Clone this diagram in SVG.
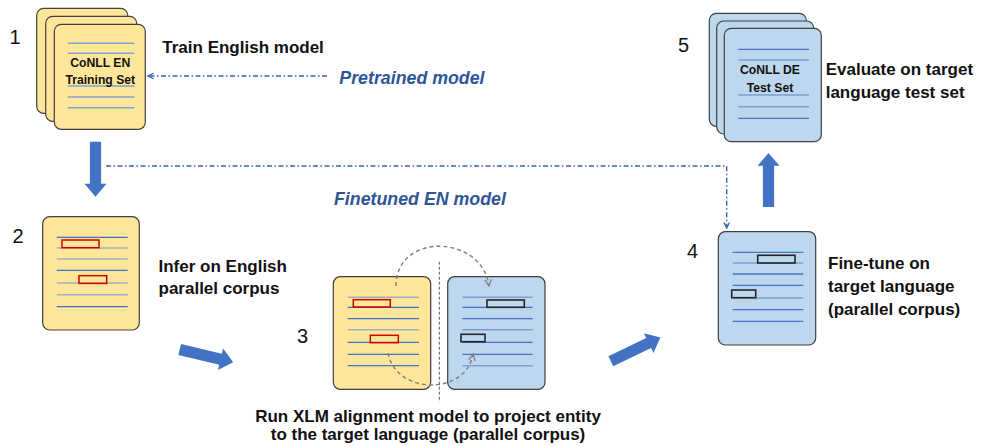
<svg xmlns="http://www.w3.org/2000/svg" width="983" height="446" viewBox="0 0 983 446">
<style>
.lbl{font-family:"Liberation Sans",Arial,sans-serif;font-weight:bold;font-size:17px;fill:#111}
.num{font-family:"Liberation Sans",Arial,sans-serif;font-size:20px;fill:#111}
.doc{font-family:"Liberation Sans",Arial,sans-serif;font-weight:bold;font-size:12.2px;fill:#111;text-anchor:middle}
.blu{font-family:"Liberation Sans",Arial,sans-serif;font-weight:bold;font-style:italic;font-size:17.8px;fill:#2F5597}
.py{fill:#FFE699;stroke:#404040;stroke-width:1.2}
.pb{fill:#BDD7EE;stroke:#404040;stroke-width:1.2}
.lb{stroke:#4472C4;stroke-width:1.3}
.lg{stroke:#9EAEC4;stroke-width:1.6}
.lp{stroke:#7F9FD4;stroke-width:1.4}
.rr{fill:none;stroke:#D40000;stroke-width:1.5}
.rk{fill:none;stroke:#262626;stroke-width:1.6}
.dd{fill:none;stroke:#3A64B0;stroke-width:1.4;stroke-dasharray:5 2.5 1.5 2.5}
.gd{fill:none;stroke:#7F7F7F;stroke-width:1.4;stroke-dasharray:4 3}
.blk{fill:#4472C4}
</style>
<defs>
<polygon id="barrow" points="0,-5.6 42,-5.6 42,-11 55,0 42,11 42,5.6 0,5.6"/>
<marker id="chevB" viewBox="0 0 10 10" refX="9" refY="5" markerWidth="7" markerHeight="7" orient="auto" markerUnits="userSpaceOnUse">
<path d="M1,1 L9,5 L1,9" fill="none" stroke="#3A64B0" stroke-width="1.8"/>
</marker>
<marker id="chevG" viewBox="0 0 10 10" refX="9" refY="5" markerWidth="8" markerHeight="8" orient="auto" markerUnits="userSpaceOnUse">
<path d="M1,1 L9,5 L1,9" fill="none" stroke="#7F7F7F" stroke-width="1.6"/>
</marker>
</defs>
<rect width="983" height="446" fill="#fff"/>

<g id="node1">
<rect class="py" x="36.7" y="8.3" width="91" height="105" rx="7"/>
<rect class="py" x="45.7" y="16.3" width="91" height="105" rx="7"/>
<rect class="py" x="54.3" y="24.3" width="91" height="105" rx="7"/>
<line class="lp" x1="67.7" y1="43.3" x2="134.3" y2="43.3"/>
<line class="lp" x1="67.7" y1="53.3" x2="134.3" y2="53.3"/>
<line class="lp" x1="67.7" y1="86" x2="134.3" y2="86"/>
<line class="lp" x1="67.7" y1="97" x2="134.3" y2="97"/>
<line class="lp" x1="67.7" y1="107.7" x2="134.3" y2="107.7"/>
<text class="doc" x="100.3" y="66.5">CoNLL EN</text>
<text class="doc" x="100.3" y="83.5" font-size="12.5">Training Set</text>
<text class="num" x="9.5" y="44">1</text>
<text class="lbl" x="162.3" y="53.3">Train English model</text>
</g>

<g id="node2">
<rect class="py" x="42.7" y="216.7" width="96.6" height="113.3" rx="7"/>
<line class="lb" x1="56.7" y1="237.3" x2="127.7" y2="237.3"/>
<line class="lg" x1="56.7" y1="248" x2="127.7" y2="248"/>
<line class="lg" x1="56.7" y1="259" x2="127.7" y2="259"/>
<line class="lb" x1="56.7" y1="270.3" x2="127.7" y2="270.3"/>
<line class="lg" x1="56.7" y1="283" x2="127.7" y2="283"/>
<line class="lg" x1="56.7" y1="294.7" x2="127.7" y2="294.7"/>
<line class="lb" x1="56.7" y1="306.7" x2="127.7" y2="306.7"/>
<rect class="rr" x="62" y="240" width="37" height="7.7"/>
<rect class="rr" x="79" y="275.7" width="27.7" height="7.7"/>
<text class="num" x="12.5" y="243">2</text>
<text class="lbl" x="158.5" y="272">Infer on English</text>
<text class="lbl" x="158.5" y="294">parallel corpus</text>
</g>

<g id="node3">
<rect class="py" x="333.3" y="276.7" width="97.4" height="112.6" rx="7"/>
<rect class="pb" x="447.7" y="276.7" width="97.3" height="112.6" rx="7"/>
<line class="lg" x1="347.7" y1="297.3" x2="419" y2="297.3"/>
<line class="lb" x1="347.7" y1="307.3" x2="419" y2="307.3"/>
<line class="lb" x1="347.7" y1="318.7" x2="419" y2="318.7"/>
<line class="lg" x1="347.7" y1="329.7" x2="419" y2="329.7"/>
<line class="lb" x1="347.7" y1="342.3" x2="419" y2="342.3"/>
<line class="lb" x1="347.7" y1="354.3" x2="419" y2="354.3"/>
<line class="lb" x1="347.7" y1="365.7" x2="419" y2="365.7"/>
<rect class="rr" x="353.3" y="299.7" width="37" height="7.3"/>
<rect class="rr" x="370.3" y="335.3" width="28" height="7.4"/>
<line class="lp" x1="462.3" y1="297.3" x2="532.7" y2="297.3"/>
<line class="lb" x1="462.3" y1="307.3" x2="532.7" y2="307.3"/>
<line class="lb" x1="462.3" y1="318.7" x2="532.7" y2="318.7"/>
<line class="lp" x1="462.3" y1="329.7" x2="532.7" y2="329.7"/>
<line class="lb" x1="462.3" y1="342.3" x2="532.7" y2="342.3"/>
<line class="lb" x1="462.3" y1="354.3" x2="532.7" y2="354.3"/>
<line class="lp" x1="462.3" y1="365.7" x2="532.7" y2="365.7"/>
<rect class="rk" x="487" y="300" width="37.3" height="7.3"/>
<rect class="rk" x="461" y="334.3" width="24" height="7.4"/>
<line x1="439.3" y1="261.7" x2="439.3" y2="402" stroke="#595959" stroke-width="1" stroke-dasharray="3 2"/>
<path class="gd" d="M396,286 C396,232 482,234 489,286" marker-end="url(#chevG)"/>
<path class="gd" d="M388,353 C396,395 466,396 473,354" marker-end="url(#chevG)"/>
<text class="num" x="297" y="343">3</text>
<text class="lbl" x="428" y="421.7" text-anchor="middle" font-size="17.6">Run XLM alignment model to project entity</text>
<text class="lbl" x="428" y="440" text-anchor="middle" font-size="17.6">to the target language (parallel corpus)</text>
</g>

<g id="node4">
<rect class="pb" x="718.3" y="231.7" width="97.4" height="113.3" rx="7"/>
<line class="lb" x1="732.7" y1="252.3" x2="803.3" y2="252.3"/>
<line class="lp" x1="732.7" y1="263" x2="803.3" y2="263"/>
<line class="lb" x1="732.7" y1="274" x2="803.3" y2="274"/>
<line class="lb" x1="732.7" y1="285.3" x2="803.3" y2="285.3"/>
<line class="lp" x1="732.7" y1="298" x2="803.3" y2="298"/>
<line class="lb" x1="732.7" y1="309.7" x2="803.3" y2="309.7"/>
<line class="lb" x1="732.7" y1="321.3" x2="803.3" y2="321.3"/>
<rect class="rk" x="757.7" y="255.3" width="37.3" height="7.7"/>
<rect class="rk" x="731.7" y="290" width="24" height="7.7"/>
<text class="num" x="687" y="258.3">4</text>
<text class="lbl" x="828" y="269.3">Fine-tune on</text>
<text class="lbl" x="828" y="292.3">target language</text>
<text class="lbl" x="828" y="315.3">(parallel corpus)</text>
</g>

<g id="node5">
<rect class="pb" x="709.3" y="13.3" width="97" height="113" rx="7"/>
<rect class="pb" x="716.7" y="21" width="97" height="113" rx="7"/>
<rect class="pb" x="724.3" y="28.3" width="97" height="113.4" rx="7"/>
<line class="lb" x1="738.3" y1="49.3" x2="809" y2="49.3"/>
<line class="lp" x1="738.3" y1="60" x2="809" y2="60"/>
<line class="lp" x1="738.3" y1="95" x2="809" y2="95"/>
<line class="lp" x1="738.3" y1="106.7" x2="809" y2="106.7"/>
<line class="lb" x1="738.3" y1="118.3" x2="809" y2="118.3"/>
<text class="doc" x="770" y="74">CoNLL DE</text>
<text class="doc" x="770" y="92">Test Set</text>
<text class="num" x="678" y="52.3">5</text>
<text class="lbl" x="825.7" y="75">Evaluate on target</text>
<text class="lbl" x="825.7" y="98">language test set</text>
</g>

<g id="connectors">
<use href="#barrow" class="blk" transform="translate(95.5,141.7) rotate(90)"/>
<use href="#barrow" class="blk" transform="translate(179.7,349.5) rotate(13.5)"/>
<use href="#barrow" class="blk" transform="translate(610.8,361.2) rotate(-25.6)"/>
<use href="#barrow" class="blk" transform="translate(768.5,207) rotate(-90) scale(0.98,1)"/>
<path class="dd" d="M327,76 L148,76" marker-end="url(#chevB)"/>
<text class="blu" x="339.3" y="84">Pretrained model</text>
<path class="dd" d="M106,166 L726.7,166 L726.7,228" marker-end="url(#chevB)"/>
<text class="blu" x="334" y="205">Finetuned EN model</text>
</g>
</svg>
